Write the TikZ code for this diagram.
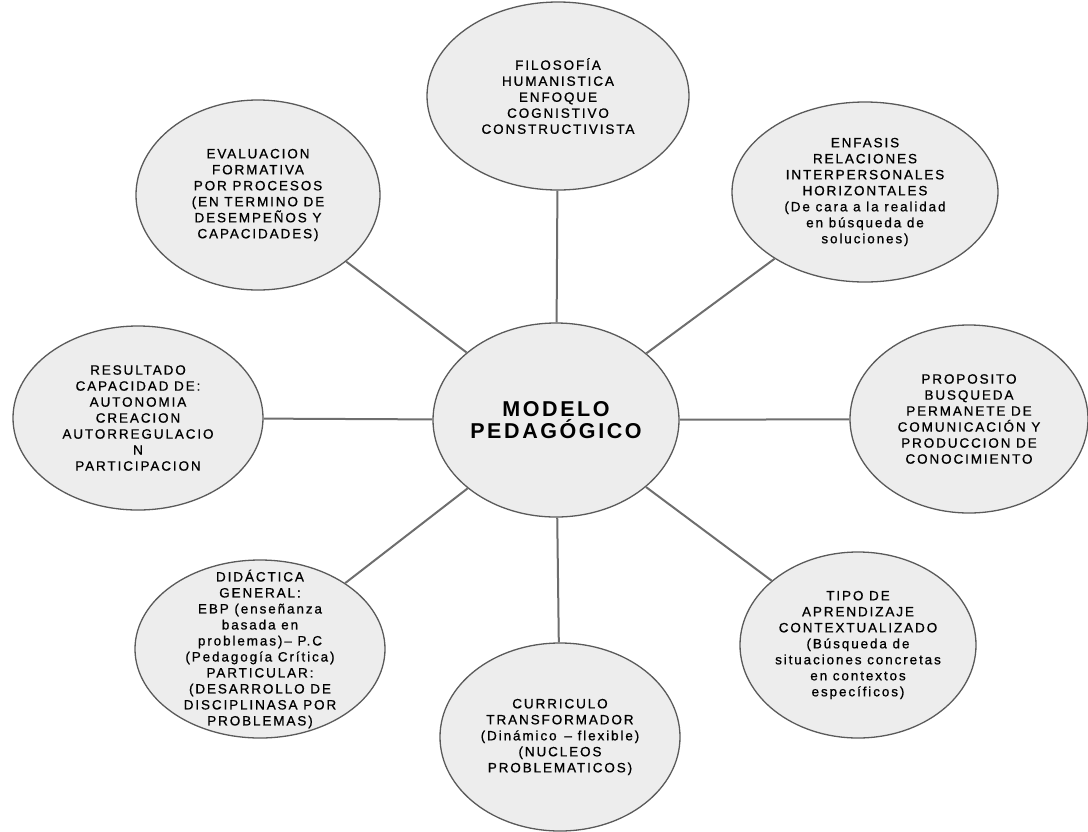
\documentclass[tikz,border=0pt]{standalone}
\usepackage{fontspec}
\setmainfont{Liberation Sans}[LetterSpace=14, FakeBold=0.8]
\newfontfamily\titlefont{Liberation Sans Bold}[LetterSpace=12]
\usepackage{tikz}
\usetikzlibrary{shapes.geometric, positioning}

\definecolor{bubblefill}{HTML}{EDEDED}
\definecolor{bubbleline}{HTML}{5A5A5A}
\definecolor{spoke}{HTML}{6E6E6E}

\begin{document}
\begin{tikzpicture}[
  x=1pt, y=-1pt,
  bubble/.style 2 args={
    ellipse,
    draw=bubbleline,
    line width=1.3pt,
    fill=bubblefill,
    inner sep=-25pt,
    align=center,
    minimum width=#1pt,
    minimum height=#2pt,
    font=\fontsize{13.5}{16}\selectfont
    },
  spokeline/.style={draw=spoke, line width=2pt}
]

\useasboundingbox (0,0) rectangle (1088,831);

% hub
\node[bubble={246}{194}, font=\titlefont\fontsize{21.5}{22}\selectfont](modelo) at (556,420)
  {MODELO\\PEDAGÓGICO};

% outer ring
\node[bubble={262}{188}](filosofia) at (558,96)
  {FILOSOFÍA\\HUMANISTICA\\ENFOQUE\\COGNISTIVO\\CONSTRUCTIVISTA};

\node[bubble={266}{180}](enfasis) at (865,192)
  {ENFASIS\\RELACIONES\\INTERPERSONALES\\HORIZONTALES\\(De cara a la realidad\\en búsqueda de\\soluciones)};

\node[bubble={238}{188}](proposito) at (969,419)
  {PROPOSITO\\BUSQUEDA\\PERMANETE DE\\COMUNICACIÓN Y\\PRODUCCION DE\\CONOCIMIENTO};

\node[bubble={236}{186}](tipo) at (858,645)
  {TIPO DE\\APRENDIZAJE\\CONTEXTUALIZADO\\(Búsqueda de\\situaciones concretas\\en contextos\\específicos)};

\node[bubble={240}{188}](curriculo) at (560,737)
  {CURRICULO\\TRANSFORMADOR\\(Dinámico \,– flexible)\\(NUCLEOS\\PROBLEMATICOS)};

\node[bubble={250}{178}](didactica) at (260,649)
  {DIDÁCTICA\\GENERAL:\\EBP (enseñanza\\basada en\\problemas)– P.C\\(Pedagogía Crítica)\\PARTICULAR:\\(DESARROLLO DE\\DISCIPLINASA POR\\PROBLEMAS)};

\node[bubble={250}{184}](resultado) at (138,418)
  {RESULTADO\\CAPACIDAD DE:\\AUTONOMIA\\CREACION\\AUTORREGULACIO\\N\\PARTICIPACION};

\node[bubble={244}{190}](evaluacion) at (258,195)
  {EVALUACION\\FORMATIVA\\POR PROCESOS\\(EN TERMINO DE\\DESEMPEÑOS Y\\CAPACIDADES)};

% spokes
\foreach \outer in {filosofia, enfasis, proposito, tipo, curriculo, didactica, resultado, evaluacion}
  \draw[spokeline] (modelo) -- (\outer);

\end{tikzpicture}
\end{document}
